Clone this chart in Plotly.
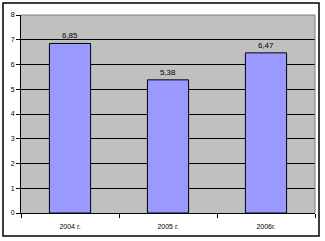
import plotly.graph_objects as go

categories = ["2004 г.", "2005 г.", "2006г."]
values = [6.85, 5.38, 6.47]
y_ticks = [0, 1, 2, 3, 4, 5, 6, 7, 8]

fig = go.Figure(go.Bar(
    x=categories, y=values,
    marker=dict(color="#9999FF", line=dict(color="black", width=1)),
    width=0.42,
    text=[f"{v:.2f}".replace(".", ",") for v in values],
    textposition="outside",
    textfont=dict(size=8, color="black", family="Liberation Sans"),
    cliponaxis=False,
))

fig.update_layout(
    width=325, height=241,
    margin=dict(l=21, r=10, t=15, b=28),
    paper_bgcolor="white",
    plot_bgcolor="#C0C0C0",
    font=dict(family="Liberation Sans", size=7, color="black"),
    showlegend=False,
    separators=", ",
    xaxis=dict(
        showline=True, linecolor="black", linewidth=1,
        ticks="outside", tickson="boundaries", ticklen=4, tickcolor="black",
        ticklabelstandoff=7,
        showgrid=False, tickfont=dict(size=7),
    ),
    yaxis=dict(
        range=[0, 8], tickvals=y_ticks,
        showline=True, linecolor="black", linewidth=1,
        ticks="outside", ticklen=4, tickcolor="black",
        showgrid=True, gridcolor="black", gridwidth=1,
        zeroline=False, tickfont=dict(size=7),
    ),
    shapes=[
        dict(type="line", xref="paper", yref="paper", x0=0, x1=1, y0=1, y1=1,
             line=dict(color="#808080", width=1), layer="above"),
        dict(type="line", xref="paper", yref="paper", x0=1, x1=1, y0=0, y1=1,
             line=dict(color="#808080", width=1), layer="above"),
        dict(type="rect", xref="paper", yref="paper",
             x0=-18/294, x1=1 + 4/294, y0=-23/198.5, y1=1 + 12/198.5,
             line=dict(color="black", width=1.5), layer="above"),
    ],
)

fig.write_html("out.html")
